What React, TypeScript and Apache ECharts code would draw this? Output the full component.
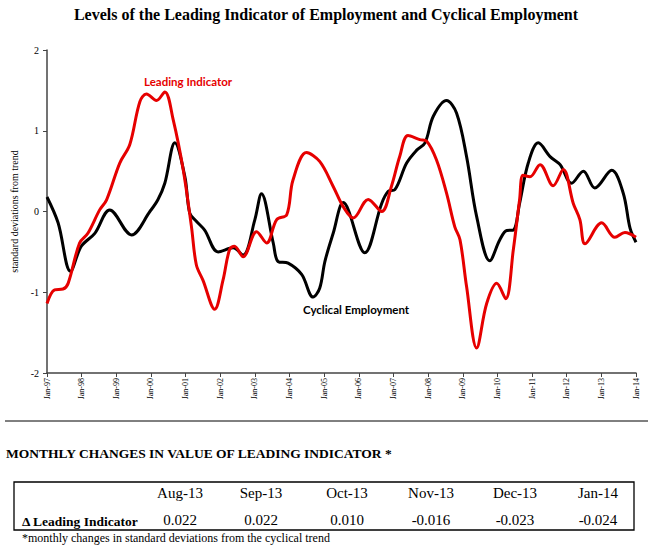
import React, { useEffect, useRef } from "react";
import * as echarts from "echarts";

const cyclicalTimes = [
  1997.0, 1997.32, 1997.68, 1997.99, 1998.38, 1998.81, 1999.44, 1999.97, 2000.2, 2000.4,
  2000.69, 2000.98, 2001.12, 2001.31, 2001.55, 2001.94, 2002.37, 2002.66, 2003.0, 2003.19,
  2003.53, 2003.67, 2003.96, 2004.35, 2004.68, 2004.87, 2005.02, 2005.26, 2005.55, 2006.17,
  2006.66, 2006.85, 2007.04, 2007.38, 2007.67, 2007.91, 2008.15, 2008.53, 2008.82, 2009.11,
  2009.4, 2009.78, 2010.07, 2010.27, 2010.46, 2010.64, 2010.89, 2011.18, 2011.52, 2011.81,
  2012.14, 2012.48, 2012.81, 2013.3, 2013.63, 2013.83, 2014.0,
];
const cyclicalValues = [
  0.18, -0.14, -0.74, -0.43, -0.27, 0.02, -0.29, 0.0, 0.145, 0.35,
  0.85, 0.43, -0.02, -0.12, -0.23, -0.5, -0.45, -0.54, -0.1, 0.22,
  -0.39, -0.62, -0.64, -0.78, -1.06, -0.95, -0.62, -0.27, 0.11, -0.51,
  0.1, 0.25, 0.27, 0.6, 0.76, 0.85, 1.18, 1.375, 1.22, 0.68,
  -0.06, -0.61, -0.35, -0.235, -0.23, 0.1, 0.6, 0.85, 0.68, 0.58,
  0.35, 0.5, 0.29, 0.51, 0.23, -0.21, -0.38,
];

const leadingTimes = [
  1997.0, 1997.22, 1997.46, 1997.61, 1997.94, 1998.18, 1998.52, 1998.72, 1999.1, 1999.39,
  1999.68, 1999.87, 2000.16, 2000.4, 2000.64, 2000.93, 2001.17, 2001.31, 2001.5, 2001.84,
  2002.08, 2002.27, 2002.41, 2002.66, 2003.05, 2003.34, 2003.63, 2003.92, 2004.1, 2004.49,
  2004.87, 2005.26, 2005.55, 2005.84, 2006.27, 2006.66, 2006.94, 2007.18, 2007.42, 2007.76,
  2007.96, 2008.24, 2008.53, 2008.77, 2008.92, 2009.11, 2009.4, 2009.69, 2009.98, 2010.24,
  2010.46, 2010.64, 2010.74, 2010.94, 2011.23, 2011.61, 2011.9, 2012.19, 2012.38, 2012.53,
  2013.01, 2013.39, 2013.68, 2014.0,
];
const leadingValues = [
  -1.14, -0.97, -0.96, -0.89, -0.39, -0.27, 0.02, 0.145, 0.6, 0.83,
  1.36, 1.455, 1.375, 1.48, 1.14, 0.52, -0.19, -0.66, -0.85, -1.21,
  -0.85, -0.47, -0.43, -0.56, -0.25, -0.39, -0.1, -0.04, 0.39, 0.73,
  0.62, 0.31, 0.06, -0.08, 0.15, 0.0, 0.31, 0.68, 0.94, 0.89,
  0.87, 0.64, 0.23, -0.19, -0.35, -0.93, -1.69, -1.14, -0.89, -1.08,
  -0.47, 0.145, 0.45, 0.43, 0.58, 0.32, 0.52, 0.1, -0.1, -0.4,
  -0.14, -0.32, -0.26, -0.32,
];

const yTicks = [-2, -1, 0, 1, 2];
const tableMonths = ["Aug-13", "Sep-13", "Oct-13", "Nov-13", "Dec-13", "Jan-14"];
const tableChanges = ["0.022", "0.022", "0.010", "-0.016", "-0.023", "-0.024"];

const SERIF = "'Liberation Serif', 'Times New Roman', serif";
const SANS = "Lato, 'Open Sans', sans-serif";
const RED = "#e60000";

export default function App() {
  const ref = useRef<HTMLDivElement>(null);
  useEffect(() => {
    document.body.style.margin = "0";
    const chart = echarts.init(ref.current!, undefined, { renderer: "svg" });
    const zip = (t: number[], v: number[]) => t.map((x, i) => [x, v[i]]);
    const colX = [180, 261, 347, 431, 515, 598];
    const tableTexts: any[] = [];
    tableMonths.forEach((m, i) => {
      tableTexts.push({
        type: "text",
        x: colX[i],
        y: 493,
        style: { text: m, font: `15px ${SERIF}`, fill: "#000", textAlign: "center", textVerticalAlign: "middle" },
      });
      tableTexts.push({
        type: "text",
        x: colX[i],
        y: 520,
        style: { text: tableChanges[i], font: `15px ${SERIF}`, fill: "#000", textAlign: "center", textVerticalAlign: "middle" },
      });
    });
    chart.setOption({
      animation: false,
      backgroundColor: "#fff",
      grid: { left: 47, right: 17, top: 50, bottom: 175 },
      xAxis: {
        type: "value",
        min: 1997,
        max: 2014,
        interval: 1,
        splitLine: { show: false },
        axisLine: { show: true, onZero: false, lineStyle: { color: "#444", width: 1.5 } },
        axisTick: { show: true, length: 4, lineStyle: { color: "#444" } },
        axisLabel: {
          rotate: 90,
          fontSize: 8,
          fontFamily: SERIF,
          color: "#000",
          margin: 5,
          formatter: (v: number) => "Jan-" + String(Math.round(v)).slice(2),
        },
      },
      yAxis: {
        type: "value",
        min: yTicks[0],
        max: yTicks[yTicks.length - 1],
        interval: 1,
        splitLine: { show: false },
        axisLine: { show: true, onZero: false, lineStyle: { color: "#444", width: 1.5 } },
        axisTick: { show: true, length: 4, lineStyle: { color: "#444" } },
        axisLabel: { fontSize: 10, fontFamily: SERIF, color: "#000", margin: 8 },
        name: "standard deviations from trend",
        nameLocation: "middle",
        nameRotate: 90,
        nameGap: 28,
        nameTextStyle: { fontSize: 10, fontFamily: SERIF, color: "#000" },
      },
      series: [
        {
          name: "Cyclical Employment",
          type: "line",
          data: zip(cyclicalTimes, cyclicalValues),
          smooth: 0.35,
          showSymbol: false,
          lineStyle: { color: "#000", width: 3 },
          z: 2,
        },
        {
          name: "Leading Indicator",
          type: "line",
          data: zip(leadingTimes, leadingValues),
          smooth: 0.35,
          showSymbol: false,
          lineStyle: { color: RED, width: 3 },
          z: 3,
        },
      ],
      graphic: [
        {
          type: "text",
          x: 326,
          y: 14,
          style: {
            text: "Levels of the Leading Indicator of Employment and Cyclical Employment",
            font: `bold 16px ${SERIF}`,
            fill: "#000",
            textAlign: "center",
            textVerticalAlign: "middle",
          },
        },
        {
          type: "text",
          x: 144,
          y: 81,
          style: { text: "Leading Indicator", font: `bold 11.5px ${SANS}`, fill: RED, textVerticalAlign: "middle" },
        },
        {
          type: "text",
          x: 303,
          y: 309,
          style: { text: "Cyclical Employment", font: `bold 11.5px ${SANS}`, fill: "#000", textVerticalAlign: "middle" },
        },
        {
          type: "line",
          shape: { x1: 5, y1: 421, x2: 648, y2: 421 },
          style: { stroke: "#000", lineWidth: 1 },
        },
        {
          type: "text",
          x: 6,
          y: 453,
          style: {
            text: "MONTHLY CHANGES IN VALUE OF LEADING INDICATOR *",
            font: `bold 13.5px ${SERIF}`,
            fill: "#000",
            textVerticalAlign: "middle",
          },
        },
        {
          type: "rect",
          shape: { x: 14, y: 482, width: 620, height: 48 },
          style: { fill: "none", stroke: "#000", lineWidth: 1.3 },
        },
        {
          type: "text",
          x: 22,
          y: 521,
          style: { text: "Δ Leading Indicator", font: `bold 13.5px ${SERIF}`, fill: "#000", textVerticalAlign: "middle" },
        },
        ...tableTexts,
        {
          type: "text",
          x: 22,
          y: 538,
          style: {
            text: "*monthly changes in standard deviations from the cyclical trend",
            font: `12px ${SERIF}`,
            fill: "#000",
            textVerticalAlign: "middle",
          },
        },
      ],
    });
    return () => chart.dispose();
  }, []);
  return (
    <div
      ref={ref}
      style={{ position: "absolute", left: 0, top: 0, width: 653, height: 548, background: "#fff" }}
    />
  );
}
